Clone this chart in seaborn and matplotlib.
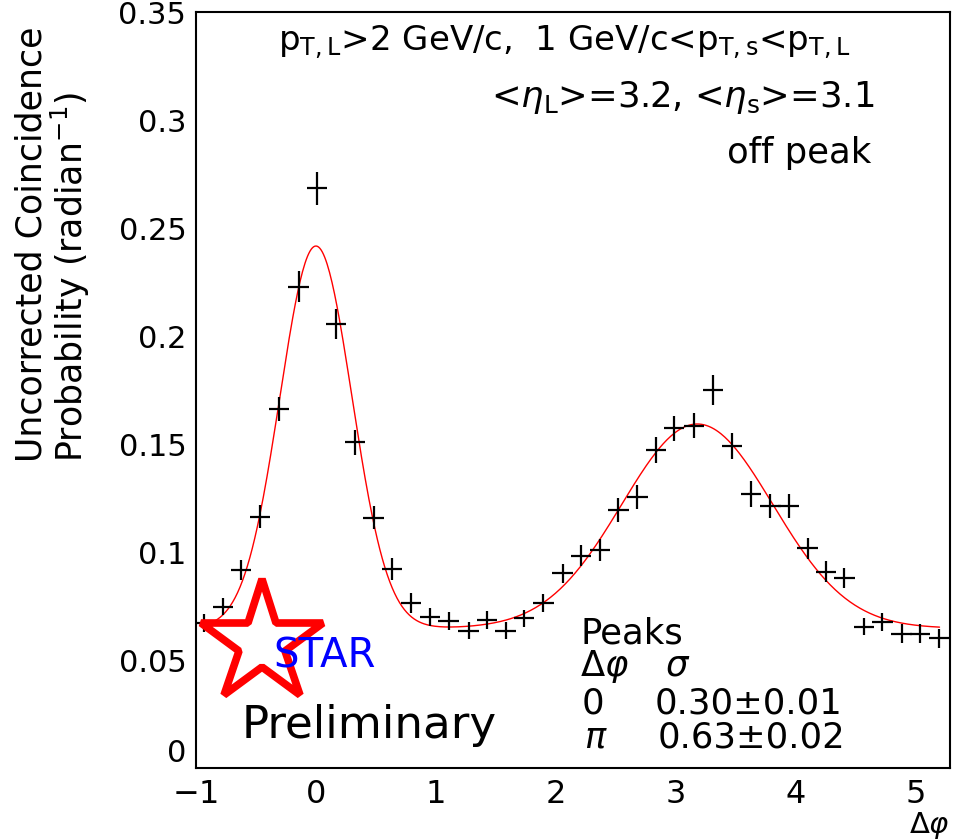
import numpy as np
import pandas as pd
import matplotlib
matplotlib.use("Agg")
import matplotlib.pyplot as plt
import seaborn as sns
from matplotlib.ticker import FixedLocator, MultipleLocator

# ---------------- data ----------------
dphi = [-0.935, -0.777, -0.624, -0.464, -0.308, -0.145, 0.007, 0.165, 0.328, 0.481,
        0.636, 0.794, 0.952, 1.107, 1.273, 1.426, 1.581, 1.733, 1.897, 2.057,
        2.210, 2.368, 2.523, 2.681, 2.834, 2.988, 3.152, 3.310, 3.471, 3.626,
        3.790, 3.942, 4.100, 4.255, 4.407, 4.568, 4.723, 4.884, 5.037, 5.197]
prob = [0.0671, 0.0748, 0.0917, 0.1165, 0.1663, 0.2230, 0.2685, 0.2057, 0.1509, 0.1160,
        0.0923, 0.0767, 0.0700, 0.0682, 0.0637, 0.0687, 0.0637, 0.0694, 0.0764, 0.0903,
        0.0985, 0.1011, 0.1196, 0.1257, 0.1474, 0.1574, 0.1586, 0.1751, 0.1492, 0.1272,
        0.1214, 0.1214, 0.1019, 0.0910, 0.0880, 0.0656, 0.0679, 0.0622, 0.0622, 0.0602]
prob_err = [0.0042, 0.0039, 0.0046, 0.0054, 0.0055, 0.0073, 0.0077, 0.0069, 0.0058, 0.0054,
            0.0050, 0.0046, 0.0042, 0.0040, 0.0040, 0.0040, 0.0040, 0.0040, 0.0042, 0.0045,
            0.0048, 0.0050, 0.0056, 0.0055, 0.0059, 0.0058, 0.0059, 0.0069, 0.0060, 0.0060,
            0.0055, 0.0055, 0.0049, 0.0048, 0.0047, 0.0039, 0.0042, 0.0044, 0.0044, 0.0044]
bin_half_width = 0.085

# fit parameters (two gaussians on a pedestal)
fit_pedestal = 0.0648
near_amp, near_mu, near_sigma = 0.177, 0.0, 0.30
away_amp, away_mu, away_sigma = 0.0946, 3.18, 0.63
fit_range = (-0.93, 5.20)

xtick_values = [-1, 0, 1, 2, 3, 4, 5]
xtick_labels = ["\u22121", "0", "1", "2", "3", "4", "5"]
ytick_values = [0, 0.05, 0.1, 0.15, 0.2, 0.25, 0.3, 0.35]
ytick_labels = ["0", "0.05", "0.1", "0.15", "0.2", "0.25", "0.3", "0.35"]

# ---------------- style ----------------
sns.set_theme(style="white")
plt.rcParams["font.family"] = ["DejaVu Sans"]
plt.rcParams["mathtext.fontset"] = "dejavusans"
for key in ["text.color", "axes.labelcolor", "xtick.color", "ytick.color", "axes.edgecolor"]:
    plt.rcParams[key] = "black"

fig = plt.figure(figsize=(9.55, 8.40), dpi=100)
fig.patch.set_facecolor("white")
ax = fig.add_axes([196 / 955, 1 - 768.3 / 840, (949.5 - 196) / 955, (768.3 - 12.3) / 840])
ax.set_facecolor("white")

# fit curve
xf = np.linspace(fit_range[0], fit_range[1], 600)
yf = (fit_pedestal
      + near_amp * np.exp(-0.5 * ((xf - near_mu) / near_sigma) ** 2)
      + away_amp * np.exp(-0.5 * ((xf - away_mu) / away_sigma) ** 2))
fit_df = pd.DataFrame({"dphi": xf, "prob": yf})
sns.lineplot(data=fit_df, x="dphi", y="prob", ax=ax, color="#ff0000", lw=1.0, zorder=2)

# data crosses
ax.errorbar(dphi, prob, xerr=bin_half_width, yerr=prob_err, fmt="none",
            ecolor="black", elinewidth=1.6, capsize=0, zorder=3)

ax.set_xlim(-1, 2 * np.pi - 1)
ax.set_ylim(0, 0.35)
ax.xaxis.set_major_locator(FixedLocator(xtick_values))
ax.set_xticklabels(xtick_labels)
ax.xaxis.set_minor_locator(MultipleLocator(0.2))
ax.yaxis.set_major_locator(FixedLocator(ytick_values))
ax.set_yticklabels(ytick_labels)
ax.yaxis.set_minor_locator(MultipleLocator(0.01))

ax.tick_params(axis="both", which="both", direction="in", top=False, right=False,
               width=1.4, color="black", labelcolor="black")
ax.tick_params(axis="both", which="major", length=12.5)
ax.tick_params(axis="both", which="minor", length=6.5)
ax.tick_params(axis="y", which="major", labelsize=22, pad=7)
ax.tick_params(axis="x", which="major", labelsize=23, pad=8)
for s in ax.spines.values():
    s.set_linewidth(1.5)
    s.set_color("black")
    s.set_visible(True)
# lift the "0" y tick label slightly, as in the reference
ax.get_yticklabels()[0].set_verticalalignment("bottom")

# axis titles
ax.set_ylabel("Uncorrected Coincidence\nProbability (radian$^{-1}$)", fontsize=25,
              linespacing=1.0, color="black")
ax.yaxis.label.set_horizontalalignment("left")
ax.yaxis.label.set_verticalalignment("top")
ax.yaxis.label.set_multialignment("left")
ax.yaxis.set_label_coords((15 - 196) / 753.5, (768.3 - 462) / 756)

ax.set_xlabel("$\\Delta\\varphi$", fontsize=21, color="black")
ax.xaxis.label.set_horizontalalignment("right")
ax.xaxis.set_label_coords(1.0, (768.3 - 810) / 756)

def axt(px, py, s, **kw):
    ax.text((px - 196) / 753.5, (768.3 - py) / 756, s, transform=ax.transAxes, **kw)

# annotations
axt(564, 50, "p$_{\\rm T,L}$>2 GeV/c,  1 GeV/c<p$_{\\rm T,s}$<p$_{\\rm T,L}$",
    fontsize=24.5, ha="center", va="baseline")
axt(683, 107, "<$\\eta_{\\rm L}$>=3.2, <$\\eta_{\\rm s}$>=3.1",
    fontsize=25.5, ha="center", va="baseline")
axt(799, 163, "off peak", fontsize=25.5, ha="center", va="baseline")

# STAR logo
ax.plot([(262 - 196) / 753.5], [(768.3 - 643) / 756], marker="*", markersize=92,
        markerfacecolor="none", markeredgecolor="#ff0000", markeredgewidth=5.5,
        transform=ax.transAxes, clip_on=False, zorder=4)
axt(325, 667, "STAR", fontsize=29, color="#0000ff", ha="center", va="baseline", zorder=5)
axt(369, 738, "Preliminary", fontsize=32.5, ha="center", va="baseline")

# peaks table
tfs = 25.5
axt(580, 643, "Peaks", fontsize=tfs, ha="left", va="baseline")
axt(580, 676, "$\\Delta\\varphi$", fontsize=tfs, ha="left", va="baseline")
axt(665, 676, "$\\sigma$", fontsize=tfs, ha="left", va="baseline")
axt(582, 713, "0", fontsize=tfs, ha="left", va="baseline")
axt(655, 713, "0.30\u00b10.01", fontsize=tfs, ha="left", va="baseline")
axt(584, 748, "$\\pi$", fontsize=tfs, ha="left", va="baseline")
axt(658, 748, "0.63\u00b10.02", fontsize=tfs, ha="left", va="baseline")

fig.savefig("out.png", dpi=100, facecolor="white")
